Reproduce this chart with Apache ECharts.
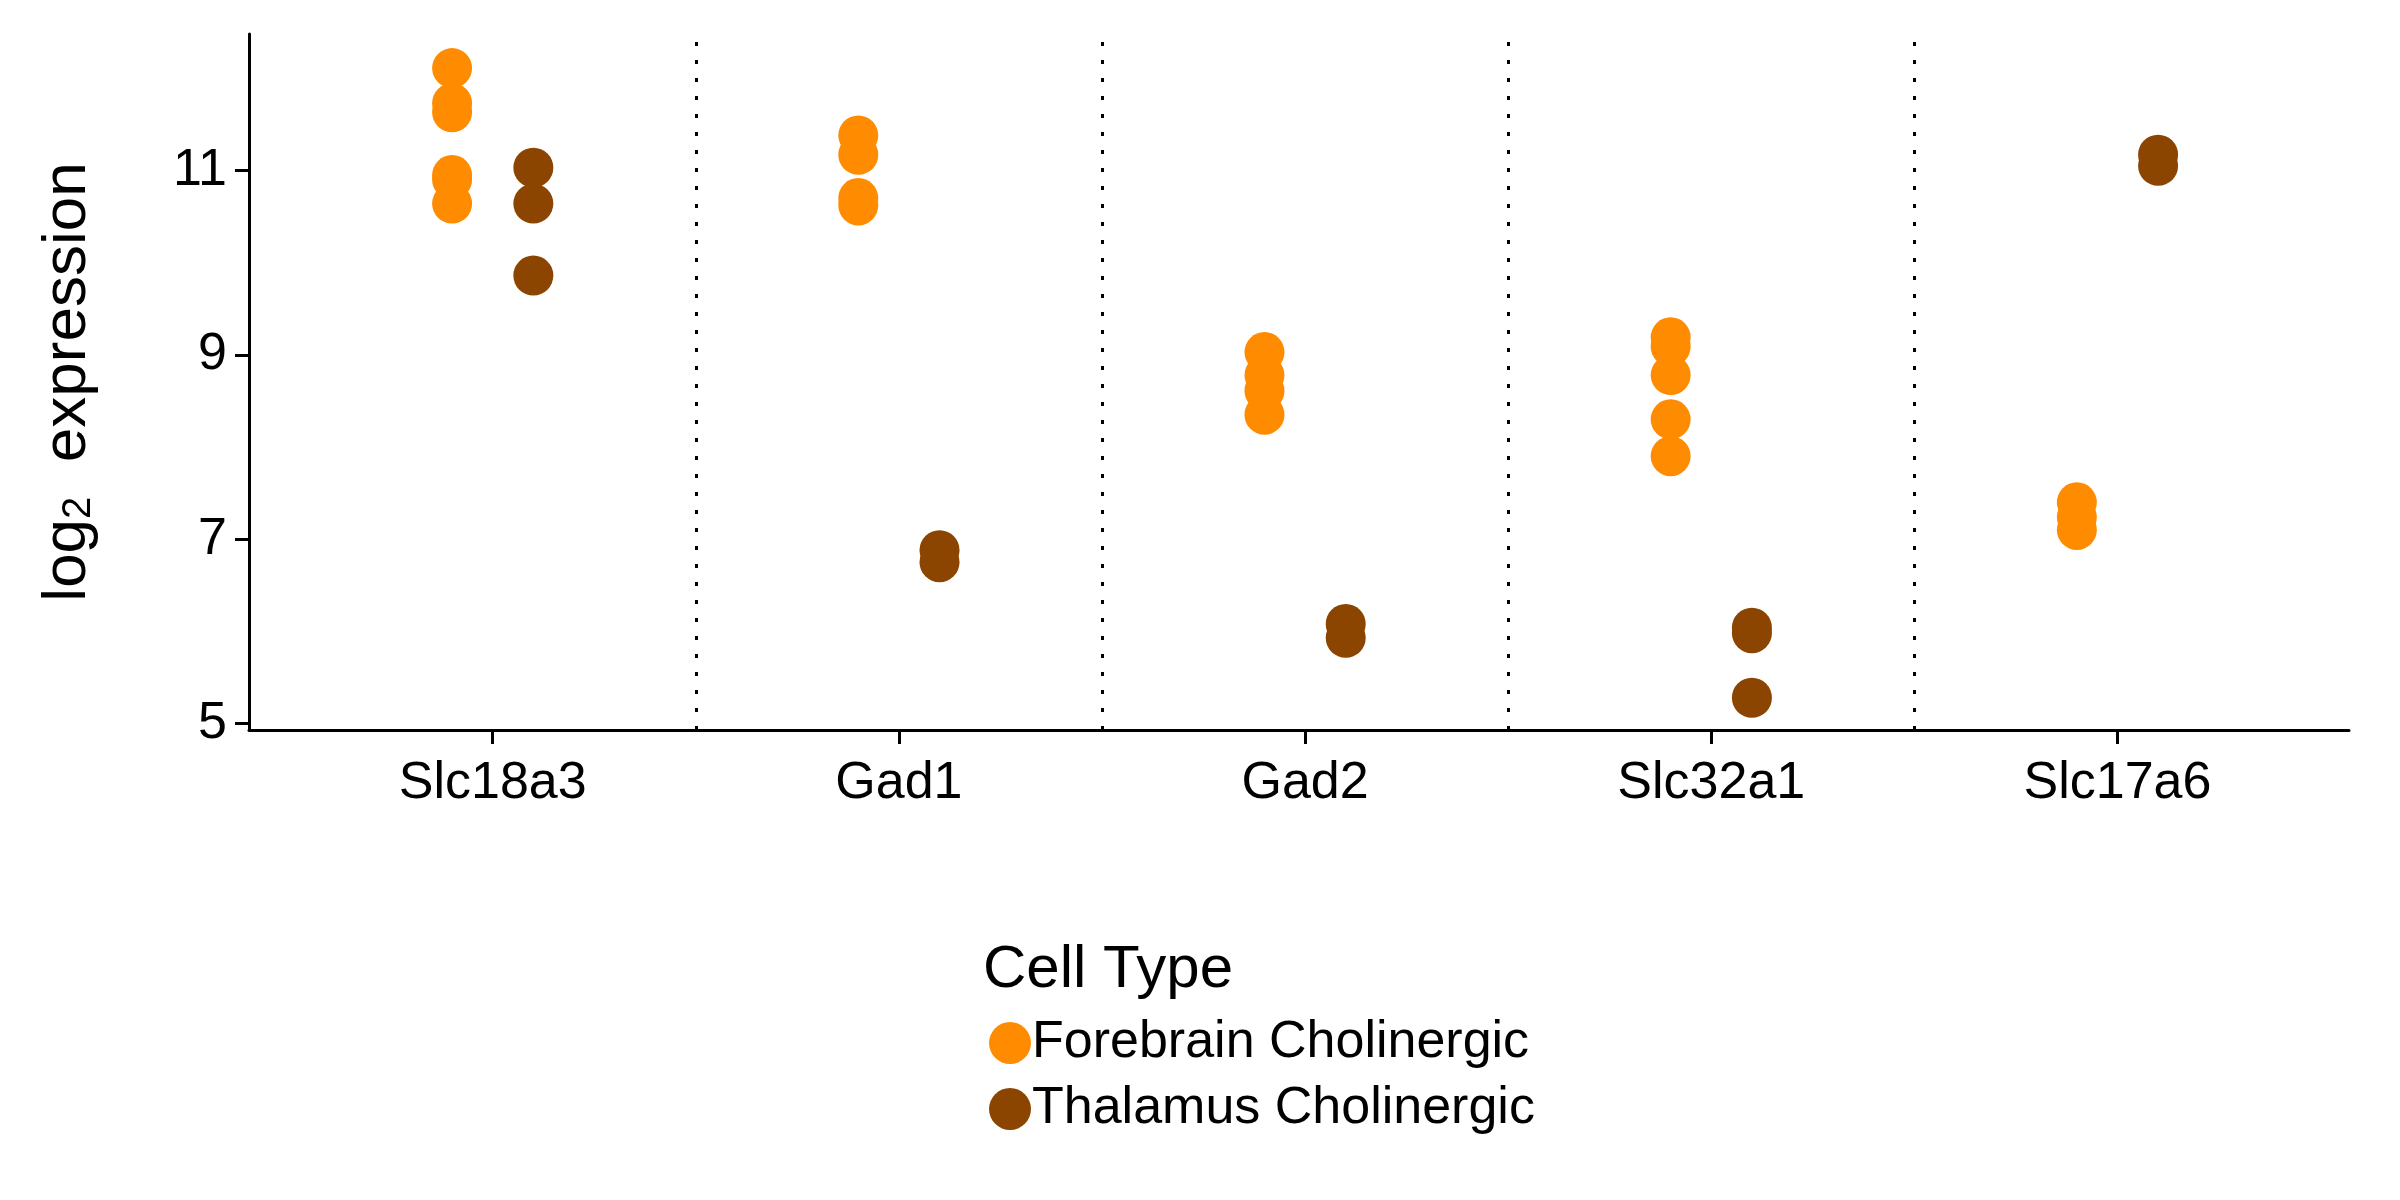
<!DOCTYPE html>
<html>
<head>
<meta charset="utf-8">
<script src="https://cdn.jsdelivr.net/npm/echarts@6/dist/echarts.min.js"></script>
<style>html,body{margin:0;padding:0;background:#fff}#main{width:2400px;height:1200px}</style>
</head>
<body>
<div id="main"></div>
<script>
// genes on the x axis
var genes = ['Slc18a3', 'Gad1', 'Gad2', 'Slc32a1', 'Slc17a6'];
var yTicks = [5, 7, 9, 11];
// values per gene
var forebrain = [
  [12.11, 11.73, 11.63, 10.95, 10.9, 10.64],
  [11.38, 11.17, 10.7, 10.62],
  [9.03, 8.78, 8.61, 8.35],
  [9.19, 9.09, 8.78, 8.3, 7.9],
  [7.4, 7.24, 7.1]
];
var thalamus = [
  [11.03, 10.64, 9.86],
  [6.88, 6.75],
  [6.08, 5.93],
  [6.04, 5.98, 5.28],
  [11.17, 11.05]
];

function toPoints(groups, offset) {
  var pts = [];
  groups.forEach(function (vals, i) {
    vals.forEach(function (v) { pts.push([i + 1 + offset, v]); });
  });
  return pts;
}

var myChart = echarts.init(document.getElementById('main'));
var font = 'Liberation Sans, Arial, sans-serif';
var option = {
  animation: false,
  grid: { left: 249, right: 51, top: 34, bottom: 470 },
  title: {
    text: 'Cell Type', left: 978, top: 935,
    textStyle: { fontFamily: font, fontSize: 60, fontWeight: 'normal', color: '#000' }
  },
  legend: {
    orient: 'vertical', left: 984, top: 1012, itemGap: 14,
    icon: 'circle', itemWidth: 42, itemHeight: 42,
    textStyle: { fontFamily: font, fontSize: 52, color: '#000', padding: [0, 0, 0, -4] },
    data: ['Forebrain Cholinergic', 'Thalamus Cholinergic']
  },
  xAxis: {
    type: 'value', min: 0.4, max: 5.57,
    splitLine: { show: false },
    axisLine: { lineStyle: { color: '#000', width: 3 } },
    axisTick: { length: 14, lineStyle: { color: '#000', width: 3 }, customValues: [1, 2, 3, 4, 5] },
    axisLabel: {
      customValues: [1, 2, 3, 4, 5], margin: 28,
      fontFamily: font, fontSize: 52, color: '#000',
      formatter: function (v) { return genes[Math.round(v) - 1] || ''; }
    }
  },
  yAxis: {
    type: 'value', min: 4.93, max: 12.48,
    splitLine: { show: false },
    axisLine: { show: true, lineStyle: { color: '#000', width: 3 } },
    axisTick: { show: true, length: 14, lineStyle: { color: '#000', width: 3 }, customValues: yTicks },
    axisLabel: { customValues: yTicks, margin: 22, fontFamily: font, fontSize: 52, color: '#000' },
    name: '{a|log}{s|2}{a|  expression}',
    nameLocation: 'middle', nameRotate: 90, nameGap: 150,
    nameTextStyle: {
      rich: {
        a: { fontFamily: font, fontSize: 62, color: '#000' },
        s: { fontFamily: font, fontSize: 40, color: '#000', verticalAlign: 'bottom', padding: [22, 0, 0, 0] }
      }
    }
  },
  series: [
    {
      name: 'Forebrain Cholinergic', type: 'scatter', symbolSize: 40,
      itemStyle: { color: '#FF8C00', opacity: 1 },
      data: toPoints(forebrain, -0.1),
      markLine: {
        silent: true, symbol: 'none', label: { show: false },
        lineStyle: { color: '#000', type: [4, 14], width: 3 },
        data: [{ xAxis: 1.5 }, { xAxis: 2.5 }, { xAxis: 3.5 }, { xAxis: 4.5 }]
      }
    },
    {
      name: 'Thalamus Cholinergic', type: 'scatter', symbolSize: 40,
      itemStyle: { color: '#8B4500', opacity: 1 },
      data: toPoints(thalamus, 0.1)
    }
  ]
};
option && myChart.setOption(option);
</script>
</body>
</html>
